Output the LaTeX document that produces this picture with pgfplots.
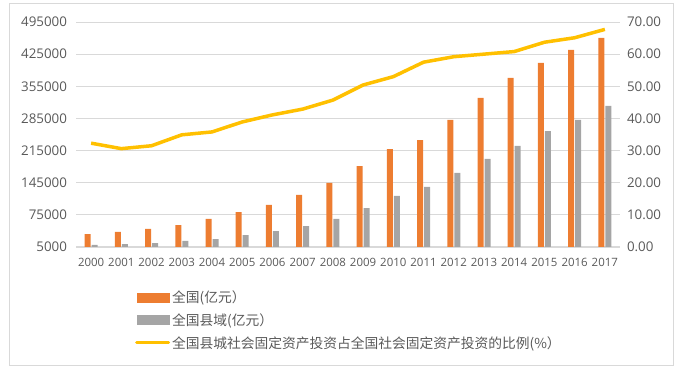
\documentclass[border=0pt]{standalone}
\usepackage{pgfplots}
\pgfplotsset{compat=1.18}
\usepackage{fontspec}
\setmainfont{Open Sans}
\newfontfamily\cjk{Noto Sans CJK SC}
\definecolor{cOr}{HTML}{ED7D31}
\definecolor{cGr}{HTML}{A5A5A5}
\definecolor{cYe}{HTML}{FFC000}
\definecolor{cGrid}{HTML}{D9D9D9}
\definecolor{cTxt}{HTML}{595959}
\begin{document}
\begin{tikzpicture}
\useasboundingbox (0,0) rectangle (681bp,375bp);
\draw[cGrid, line width=1bp] (9.5bp,9bp) rectangle (673.5bp,371bp);
\pgfplotsset{
  base/.style={
    at={(76bp,128bp)}, anchor=south west, scale only axis,
    width=544bp, height=225bp,
    xmin=1999.5, xmax=2017.5,
    major tick length=0pt,
    /pgf/number format/assume math mode=true,
    clip=false,
  }
}
\begin{axis}[base,
  ymin=5000, ymax=495000,
  ytick={5000,75000,145000,215000,285000,355000,425000,495000},
  scaled y ticks=false,
  yticklabel style={/pgf/number format/.cd, fixed, 1000 sep={}, /tikz/.cd,
     font=\fontsize{13.4}{14}\selectfont, text=cTxt, xshift=-5.5bp},
  xtick={2000,...,2017},
  xticklabel style={/pgf/number format/.cd, 1000 sep={}, /tikz/.cd,
     font=\fontsize{11.5}{12}\selectfont, text=cTxt, yshift=-8bp},
  axis x line*=bottom, axis y line*=left,
  x axis line style={cGrid, line width=1bp, -},
  y axis line style={draw=none},
  ymajorgrids, grid style={cGrid, line width=0.8bp},
  legend style={at={(0.1085,-0.185)}, anchor=north west, draw=none, fill=none,
     font=\cjk\fontsize{13.8}{16}\selectfont, text=cTxt, row sep=5.5bp,
     cells={anchor=west}, inner sep=0pt},
  legend cell align=left,
]
\addlegendimage{legend image code/.code={\fill[cOr] (0bp,-4.5bp) rectangle (32bp,4.5bp);}}
\addlegendentry{全国(亿元）}
\addlegendimage{legend image code/.code={\fill[cGr] (0bp,-4.5bp) rectangle (32bp,4.5bp);}}
\addlegendentry{全国县域(亿元）}
\addlegendimage{legend image code/.code={\draw[cYe, line width=3bp, line cap=round] (0bp,0bp) -- (32bp,0bp);}}
\addlegendentry{全国县城社会固定资产投资占全国社会固定资产投资的比例(\%）}
\begin{scope}
\clip (axis cs:1999.5,5000) rectangle (axis cs:2017.5,495000);
\addplot[ybar, bar width=6bp, bar shift=-3.5bp, fill=cOr, draw=none, forget plot] coordinates {
(2000,33300) (2001,37700) (2002,44200) (2003,52900) (2004,66000) (2005,81200)
(2006,96500) (2007,118300) (2008,144400) (2009,181400) (2010,218400) (2011,238000)
(2012,281600) (2013,329500) (2014,373100) (2015,405800) (2016,434100) (2017,460200)};
\addplot[ybar, bar width=6bp, bar shift=3.5bp, fill=cGr, draw=none, forget plot] coordinates {
(2000,9400) (2001,11500) (2002,13700) (2003,18100) (2004,22400) (2005,31100)
(2006,39800) (2007,50700) (2008,66000) (2009,89900) (2010,116100) (2011,135700)
(2012,166200) (2013,196700) (2014,225000) (2015,257600) (2016,281600) (2017,312100)};
\end{scope}
\end{axis}
\begin{axis}[base,
  ymin=0, ymax=70,
  ytick={0,10,...,70},
  axis y line*=right, axis x line=none,
  y axis line style={draw=none},
  yticklabel style={/pgf/number format/.cd, fixed, fixed zerofill, precision=2, /tikz/.cd,
     font=\fontsize{13.4}{14}\selectfont, text=cTxt, xshift=3.5bp},
]
\addplot[cYe, line width=3.5bp, line join=round] coordinates {
(2000,32.3) (2001,30.6) (2002,31.5) (2003,34.9) (2004,35.8) (2005,38.9)
(2006,41.1) (2007,42.9) (2008,45.7) (2009,50.4) (2010,53.0) (2011,57.5)
(2012,59.2) (2013,60.0) (2014,60.8) (2015,63.7) (2016,65.1) (2017,67.7)};
\end{axis}
\end{tikzpicture}
\end{document}
